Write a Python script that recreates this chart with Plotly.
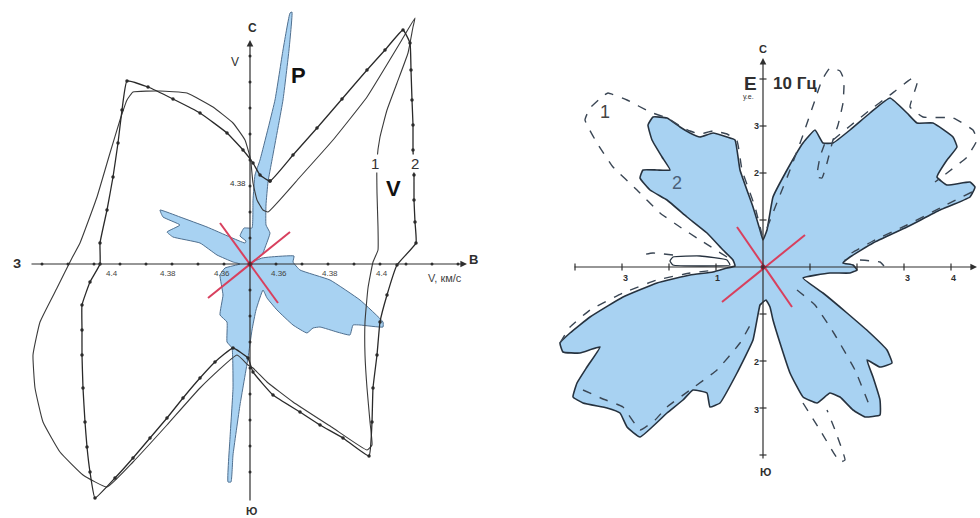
import plotly.graph_objects as go

# ---------------- Left panel: velocity polar (V, km/s), offsets from origin ----------------
v1_x = [1, 3, 7, 13, 18, 50, 83, 117, 150, 165, 163, 158, 147, 137, 130, 127, 127, 128, 128, 123, 118, 115, 115, 117, 120, 122, 117,
        83, 43, 17, 3, -2, -13, -50, -83, -117, -143, -167, -190, -207, -215, -217, -210, -193, -178, -170, -153, -140, -130, -123,
        -117, -90, -63, -37, -17, -5, 0, 1]
v1_y = [101, 81, 64, 54, 52, 87, 124, 167, 221, 246, 237, 211, 181, 154, 127, 104, 71, 37, 14, 2, -24, -58, -91, -124, -158, -181, -186,
        -164, -138, -118, -104, -101, -91, -124, -161, -198, -223, -211, -188, -158, -124, -91, -58, -24, 6, 21, 67, 111, 144, 164,
        172, 173, 171, 157, 141, 124, 107, 101]

v2_x = [20, 43, 67, 92, 117, 135, 153, 160, 161, 162, 163, 163, 164, 164, 165, 166, 147, 137, 130, 127, 123, 122, 119,
        93, 70, 50, 23, 3, -2, -17, -35, -50, -67, -83, -100, -117, -135, -155, -160, -163, -165, -167, -168, -168, -168,
        -160, -150, -150, -143, -137, -132, -128, -123, -102, -77, -50, -23, -7, 3, 10, 20]
v2_y = [83, 109, 136, 165, 194, 214, 234, 221, 194, 164, 139, 114, 89, 64, 42, 21, -1, -31, -58, -91, -124, -158, -192,
        -174, -161, -148, -131, -108, -94, -84, -98, -114, -134, -154, -174, -194, -214, -234, -208, -183, -158, -124, -91, -66, -41,
        -18, 0, 21, 54, 87, 121, 154, 183, 177, 165, 151, 131, 114, 101, 89, 83]

p_x = [2, 12, 16, 20, 16, 16, 18, 22, 33, 39, 42, 40, 33, 25, 10, 5, 3, 2, -6, -10, -4, -5, -20, -43, -70, -90, -87, -70, -83, -77,
       -50, -33, -17, -10, -25, -30, -27, -30, -23, -23, -18, -17, -20, -22, -19, -17, -10, -2, 2, 6, 13, 17, 27, 43, 57, 63, 70,
       87, 100, 103, 110, 133, 133, 110, 80, 50, 43, 44, 20, 12, 2]
p_y = [2, 9, 19, 31, 39, 59, 82, 104, 164, 214, 252, 251, 214, 164, 104, 89, 64, 36, 36, 28, 23, 21, 27, 37, 47, 54, 47, 39, 32, 27,
       21, 9, 2, 0, -4, -11, -31, -51, -58, -78, -84, -124, -174, -218, -218, -191, -141, -94, -66, -46, -26, -34, -46, -61, -69, -64, -63,
       -68, -71, -61, -61, -63, -58, -36, -16, -6, 2, 8, 7, 6, 2]

left_red_a = ([-30, 28], [41, -39])
left_red_b = ([40, -42], [32, -34])

left_xticks_pos = [-138, -82, -28, 29, 80, 132]
left_xticks_txt = ["4.4", "4.38", "4.36", "4.36", "4.38", "4.4"]
left_tick_steps = [-208, -182, -156, -130, -104, -78, -52, -26, 26, 52, 78, 104, 130, 156, 182, 208]

# ---------------- Right panel: E 10 Hz polar (arb. units) ----------------
e2_x = [0, 4, 10, 24, 40, 52, 60, 70, 87, 107, 127, 144, 154, 170, 190, 194, 184, 174, 184, 207, 212, 207, 177, 144, 110, 87, 80,
        90, 94, 87, 67, 40, 60, 84, 107, 124, 129, 117, 104, 110, 117, 117, 102, 90, 77, 67, 54, 40, 27, 17, 10, 7, 3, -1, -3,
        -10, -26, -43, -53, -56, -70, -80, -96, -123, -136, -143, -156, -180, -190, -186, -176, -163, -183, -200, -203, -193, -173,
        -140, -106, -73, -50, -36, -28, -30, -40, -56, -76, -96, -113, -123, -120, -106, -93, -101, -111, -115, -110, -96, -83, -73,
        -63, -50, -36, -28, -23, -10, -3, 0]
e2_y = [27, 37, 70, 97, 124, 137, 124, 124, 137, 154, 169, 154, 144, 144, 130, 120, 107, 90, 82, 85, 80, 70, 57, 40, 24, 10, 4,
        2, -3, -6, -6, -11, -26, -46, -66, -83, -96, -100, -93, -110, -133, -148, -150, -143, -130, -126, -136, -130, -106, -76, -53,
        -40, -33, -36, -38, -73, -106, -136, -140, -126, -123, -133, -146, -170, -160, -146, -141, -136, -130, -116, -100, -80, -86,
        -85, -76, -66, -50, -30, -16, -8, -5, -1, 1, 7, 17, 34, 50, 67, 77, 89, 97, 97, 97, 110, 127, 142, 150, 149, 140, 134, 130,
        134, 130, 127, 97, 60, 37, 27]

e1_ul_x = [-36, -63, -83, -103, -126, -150, -166, -178, -173, -160, -155, -136, -113, -96, -83, -73, -63, -50, -36, -26, -21, -8, -1]
e1_ul_y = [10, 27, 40, 54, 77, 100, 124, 147, 159, 171, 174, 167, 155, 149, 141, 136, 133, 136, 133, 126, 97, 60, 32]
e1_up_x = [4, 15, 27, 40, 52, 59, 67, 77, 81, 80, 75, 70, 64, 59, 54, 57, 63]
e1_up_y = [39, 67, 97, 132, 167, 187, 199, 196, 187, 164, 142, 127, 104, 89, 90, 110, 127]
e1_ur_x = [70, 87, 107, 127, 150, 154, 147, 160, 190, 210, 214, 204, 184, 172]
e1_ur_y = [127, 141, 157, 172, 189, 184, 160, 150, 149, 137, 127, 110, 94, 85]
e1_ur2_x = [209, 177, 144, 110, 87, 82]
e1_ur2_y = [75, 59, 42, 26, 13, 7]
e1_r_x = [97, 117, 121]
e1_r_y = [7, 5, 1]
e1_lr_x = [34, 52, 72, 92, 107]
e1_lr_y = [-23, -38, -68, -103, -140]
e1_lr2_x = [40, 57, 77, 82, 72, 64]
e1_lr2_y = [-136, -163, -195, -193, -163, -143]
e1_ll_x = [-203, -193, -173, -140, -106, -73, -46]
e1_ll_y = [-76, -60, -43, -26, -13, -6, -3]
e1_ll2_x = [-180, -160, -140, -123, -108, -96, -73, -46, -23, -10]
e1_ll2_y = [-123, -132, -140, -163, -153, -140, -123, -103, -76, -53]
e1_l_x = [-90, -110, -120, -122]
e1_l_y = [12, 14, 12, 8]
e2_l_x = [-90, -63, -36, -33, -63, -90, -93, -90]
e2_l_y = [10, 11, 7, 2, 1, 2, 6, 10]

right_red_a = ([-26, 29], [40, -40])
right_red_b = ([42, -41], [32, -35])

right_ticks = [-188, -141, -94, -47, 47, 94, 141, 188]

BLUE = "rgba(168,210,242,1)"
INK = "#2f2f2f"

fig = go.Figure()


def line(x, y, ax="x", ay="y", color=INK, width=1.2, dash="solid", fill=None, fillcolor=None, markers=False, msize=3):
    fig.add_trace(go.Scatter(
        x=x, y=y, xaxis=ax, yaxis=ay,
        mode="lines+markers" if markers else "lines",
        line=dict(color=color, width=width, dash=dash, shape="spline", smoothing=0.35),
        marker=dict(size=msize, color=color),
        fill=fill, fillcolor=fillcolor, hoverinfo="skip", showlegend=False))


# left panel
line(p_x, p_y, color="#4f6f8f", width=1.0, fill="toself", fillcolor=BLUE)
line(v1_x, v1_y, color="#3a3a3a", width=1.1)
line(v2_x, v2_y, color="#2a2a2a", width=1.3, markers=True, msize=3.5)
fig.add_trace(go.Scatter(x=left_tick_steps, y=[0] * len(left_tick_steps), mode="markers",
                         marker=dict(size=3, color=INK), hoverinfo="skip", showlegend=False))
fig.add_trace(go.Scatter(x=[0] * len(left_tick_steps), y=left_tick_steps, mode="markers",
                         marker=dict(size=3, color=INK), hoverinfo="skip", showlegend=False))
for xs, ys in (left_red_a, left_red_b):
    fig.add_trace(go.Scatter(x=xs, y=ys, mode="lines", line=dict(color="#d8405e", width=2),
                             hoverinfo="skip", showlegend=False))
fig.add_trace(go.Scatter(x=[0], y=[0], mode="markers", marker=dict(size=5, color="#b0203a"),
                         hoverinfo="skip", showlegend=False))

# right panel
line(e2_x, e2_y, ax="x2", ay="y2", color="#26323f", width=1.6, fill="toself", fillcolor=BLUE)
line(e2_l_x, e2_l_y, ax="x2", ay="y2", color="#26323f", width=1.3, fill="toself", fillcolor="white")
for xs, ys in [(e1_ul_x, e1_ul_y), (e1_up_x, e1_up_y), (e1_ur_x, e1_ur_y), (e1_ur2_x, e1_ur2_y), (e1_r_x, e1_r_y),
               (e1_lr_x, e1_lr_y), (e1_lr2_x, e1_lr2_y), (e1_ll_x, e1_ll_y), (e1_ll2_x, e1_ll2_y), (e1_l_x, e1_l_y)]:
    line(xs, ys, ax="x2", ay="y2", color="#3a4654", width=1.4, dash="dash")
fig.add_trace(go.Scatter(x=right_ticks, y=[0] * len(right_ticks), xaxis="x2", yaxis="y2", mode="markers",
                         marker=dict(size=5, color=INK, symbol="line-ns", line=dict(width=1.2, color=INK)),
                         hoverinfo="skip", showlegend=False))
fig.add_trace(go.Scatter(x=[0] * len(right_ticks), y=right_ticks, xaxis="x2", yaxis="y2", mode="markers",
                         marker=dict(size=5, color=INK, symbol="line-ew", line=dict(width=1.2, color=INK)),
                         hoverinfo="skip", showlegend=False))
for xs, ys in (right_red_a, right_red_b):
    fig.add_trace(go.Scatter(x=xs, y=ys, xaxis="x2", yaxis="y2", mode="lines", line=dict(color="#d8405e", width=2),
                             hoverinfo="skip", showlegend=False))
fig.add_trace(go.Scatter(x=[0], y=[0], xaxis="x2", yaxis="y2", mode="markers", marker=dict(size=5, color="#b0203a"),
                         hoverinfo="skip", showlegend=False))

ann = []


def arrow(x0, y0, x1, y1, xr, yr):
    ann.append(dict(x=x1, y=y1, ax=x0, ay=y0, xref=xr, yref=yr, axref=xr, ayref=yr, text="",
                    showarrow=True, arrowhead=2, arrowsize=1.1, arrowwidth=1.2, arrowcolor=INK))


def text(x, y, s, xr, yr, size=11, bold=False, color=INK, bg=None, xanchor="center"):
    ann.append(dict(x=x, y=y, xref=xr, yref=yr, text=("<b>%s</b>" % s) if bold else s, showarrow=False,
                    font=dict(size=size, color=color, family="Liberation Sans, Arial, sans-serif"),
                    bgcolor=bg, xanchor=xanchor, yanchor="middle", borderpad=0))


arrow(-220, 0, 217, 0, "x", "y")
arrow(0, -238, 0, 224, "x", "y")
arrow(-190, 0, 214, 0, "x2", "y2")
arrow(0, -193, 0, 209, "x2", "y2")

text(-233, 1, "<b>З</b>", "x", "y", 13)
text(223, 5, "<b>В</b>", "x", "y", 13)
text(2, 236, "<b>С</b>", "x", "y", 12)
text(1, -247, "<b>Ю</b>", "x", "y", 11)
text(-15, 202, "V", "x", "y", 12)
text(-3, 81, "4.38", "x", "y", 8, xanchor="right")
for px, t in zip(left_xticks_pos, left_xticks_txt):
    text(px, -9, t, "x", "y", 8, color="#444")
text(195, -14, "V, км/с", "x", "y", 11, color="#444")
text(48, 189, "P", "x", "y", 22, bold=True, color="#111")
text(143, 76, "V", "x", "y", 22, bold=True, color="#111")
text(125, 101, "1", "x", "y", 15, color="#333", bg="white")
text(165, 101, "2", "x", "y", 15, color="#333", bg="white")

text(0, 218, "<b>С</b>", "x2", "y2", 11)
text(2, -205, "<b>Ю</b>", "x2", "y2", 11)
text(-13, 184, "Е", "x2", "y2", 19, bold=True)
text(32, 184, "10 Гц", "x2", "y2", 17, bold=True)
text(-15, 170, "у.е.", "x2", "y2", 7)
for yy, t in [(141, "3"), (94, "2"), (-95, "2"), (-143, "3")]:
    text(-7, yy, "<b>%s</b>" % t, "x2", "y2", 9)
for xx, t in [(-138, "3"), (-46, "1"), (144, "3"), (190, "4")]:
    text(xx, -11, "<b>%s</b>" % t, "x2", "y2", 9)
text(-158, 155, "1", "x2", "y2", 18, color="#444")
text(-86, 84, "2", "x2", "y2", 18, color="#4a6078")

fig.update_layout(
    width=980, height=518, margin=dict(l=0, r=0, t=0, b=0),
    paper_bgcolor="white", plot_bgcolor="white", showlegend=False,
    xaxis=dict(domain=[0, 500 / 980], range=[-250, 250], visible=False, fixedrange=True),
    yaxis=dict(domain=[0, 1], range=[-254, 264], visible=False, fixedrange=True),
    xaxis2=dict(domain=[500 / 980, 1], range=[-263, 217], visible=False, fixedrange=True),
    yaxis2=dict(domain=[0, 1], range=[-251, 267], visible=False, fixedrange=True, anchor="x2"),
    annotations=ann,
)
fig.write_html("out.html", config={"displayModeBar": False},
               post_script="document.body.style.margin='0';document.body.style.overflow='hidden';")
